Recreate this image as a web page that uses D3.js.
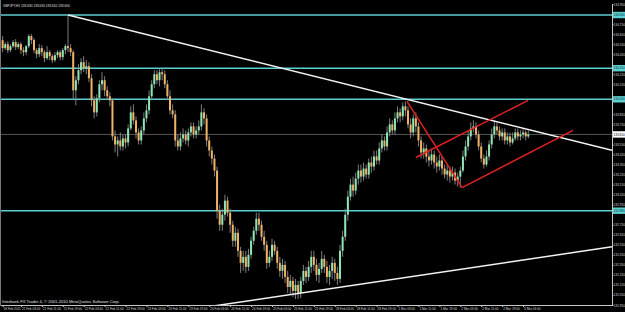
<!DOCTYPE html>
<html><head><meta charset="utf-8">
<script src="https://cdn.jsdelivr.net/npm/d3@7"></script>
<style>
html,body{margin:0;padding:0;background:#000;overflow:hidden}
svg{display:block}
text{font-family:"Liberation Sans",Arial,sans-serif}
</style></head><body>
<script>
// GBPJPY H1, bars indexed from the first visible bar
var symbol = "GBPJPY,H1";
var opens = [
134.59,134.51,134.55,134.49,134.53,134.57,134.52,134.55,134.49,134.47,
134.53,134.63,134.59,134.49,134.45,134.51,134.47,134.41,134.47,134.43,
134.39,134.44,134.47,134.42,134.49,134.53,134.51,134.47,134.09,134.19,
134.29,134.37,134.31,134.33,134.21,133.99,133.87,134.01,134.15,134.19,
134.09,134.03,133.99,133.63,133.55,133.59,133.53,133.61,133.57,133.71,
133.87,133.79,133.67,133.59,133.69,133.81,133.89,134.03,134.15,134.25,
134.19,134.27,134.25,134.15,134.03,133.89,133.85,133.59,133.53,133.61,
133.65,133.59,133.67,133.73,133.65,133.69,133.73,133.87,133.81,133.59,
133.49,133.41,133.29,132.89,132.75,132.85,132.99,132.87,132.75,132.59,
132.67,132.49,132.37,132.43,132.33,132.45,132.59,132.69,132.81,132.75,
132.63,132.55,132.37,132.43,132.55,132.49,132.37,132.29,132.35,132.23,
132.13,132.19,132.09,132.15,132.07,132.19,132.29,132.23,132.33,132.43,
132.35,132.25,132.31,132.41,132.33,132.23,132.29,132.37,132.27,132.21,
132.49,132.63,132.85,133.03,133.15,133.09,133.21,133.29,133.23,133.31,
133.25,133.37,133.33,133.43,133.39,133.51,133.59,133.53,133.67,133.75,
133.69,133.81,133.87,133.83,133.93,133.89,133.75,133.67,133.81,133.73,
133.59,133.47,133.51,133.43,133.39,133.45,133.37,133.33,133.39,133.31,
133.25,133.29,133.23,133.27,133.19,133.23,133.29,133.43,133.53,133.63,
133.71,133.73,133.65,133.53,133.41,133.35,133.43,133.55,133.65,133.73,
133.69,133.63,133.67,133.59,133.63,133.57,133.61,133.67,133.63,133.65,
133.67,133.63];
var highs = [
134.63,134.57,134.58,134.55,134.59,134.60,134.57,134.57,134.52,134.54,
134.65,134.65,134.61,134.51,134.55,134.54,134.49,134.53,134.49,134.45,
134.47,134.49,134.49,134.51,134.55,134.83,134.55,134.49,134.23,134.35,
134.41,134.43,134.39,134.37,134.25,134.03,134.05,134.19,134.27,134.23,
134.13,134.07,134.01,133.69,133.63,133.67,133.65,133.65,133.75,133.93,
133.95,133.83,133.71,133.73,133.87,133.95,134.09,134.19,134.29,134.29,
134.31,134.31,134.29,134.19,134.09,133.95,133.89,133.65,133.67,133.71,
133.69,133.71,133.77,133.77,133.73,133.79,133.95,133.91,133.85,133.63,
133.53,133.45,133.33,132.95,132.91,133.05,133.03,132.91,132.79,132.73,
132.71,132.53,132.49,132.49,132.51,132.63,132.73,132.87,132.87,132.79,
132.69,132.59,132.49,132.61,132.59,132.53,132.43,132.41,132.39,132.29,
132.25,132.23,132.21,132.19,132.23,132.35,132.33,132.39,132.49,132.49,
132.41,132.37,132.49,132.45,132.39,132.35,132.43,132.41,132.33,132.55,
132.69,132.91,133.09,133.21,133.23,133.27,133.35,133.35,133.37,133.35,
133.41,133.43,133.49,133.49,133.57,133.65,133.63,133.73,133.81,133.79,
133.87,133.93,133.91,133.97,133.98,133.93,133.81,133.85,133.87,133.77,
133.63,133.57,133.55,133.49,133.51,133.49,133.43,133.45,133.43,133.35,
133.35,133.33,133.33,133.31,133.27,133.33,133.49,133.59,133.69,133.77,
133.79,133.77,133.69,133.57,133.45,133.49,133.59,133.71,133.79,133.77,
133.73,133.71,133.71,133.67,133.67,133.67,133.71,133.71,133.69,133.71,
133.69,133.69];
var lows = [
134.47,134.49,134.46,134.47,134.51,134.49,134.50,134.45,134.43,134.44,
134.51,134.55,134.46,134.41,134.42,134.43,134.37,134.39,134.39,134.36,
134.37,134.41,134.39,134.39,134.45,134.47,134.43,133.99,133.94,134.15,
134.25,134.27,134.25,134.17,133.93,133.81,133.83,133.97,134.09,134.03,
133.99,133.93,133.59,133.47,133.43,133.49,133.49,133.51,133.53,133.69,
133.75,133.61,133.55,133.55,133.65,133.77,133.85,133.99,134.11,134.15,
134.13,134.19,134.11,133.99,133.85,133.81,133.53,133.49,133.49,133.57,
133.55,133.53,133.63,133.61,133.61,133.65,133.69,133.75,133.53,133.43,
133.35,133.23,132.81,132.69,132.69,132.79,132.83,132.67,132.53,132.53,
132.43,132.27,132.29,132.27,132.29,132.41,132.55,132.65,132.69,132.59,
132.49,132.31,132.33,132.39,132.45,132.31,132.23,132.21,132.17,132.07,
132.05,132.03,132.01,132.01,132.02,132.15,132.17,132.19,132.27,132.29,
132.19,132.17,132.27,132.27,132.17,132.15,132.21,132.19,132.15,132.17,
132.43,132.59,132.79,132.99,133.03,133.05,133.15,133.17,133.19,133.21,
133.21,133.27,133.29,133.35,133.35,133.47,133.49,133.49,133.63,133.65,
133.65,133.77,133.77,133.79,133.83,133.71,133.61,133.63,133.67,133.53,
133.41,133.41,133.37,133.33,133.35,133.31,133.27,133.29,133.25,133.21,
133.19,133.17,133.19,133.15,133.13,133.12,133.27,133.39,133.49,133.59,
133.67,133.61,133.49,133.37,133.31,133.33,133.39,133.51,133.61,133.65,
133.59,133.59,133.55,133.55,133.53,133.55,133.59,133.59,133.59,133.61,
133.59,133.61];
var closes = [
134.51,134.55,134.49,134.53,134.57,134.52,134.55,134.49,134.47,134.53,
134.63,134.59,134.49,134.45,134.51,134.47,134.41,134.47,134.43,134.39,
134.44,134.47,134.42,134.49,134.53,134.51,134.47,134.09,134.19,134.29,
134.37,134.31,134.33,134.21,133.99,133.87,134.01,134.15,134.19,134.09,
134.03,133.99,133.63,133.55,133.59,133.53,133.61,133.57,133.71,133.87,
133.79,133.67,133.59,133.69,133.81,133.89,134.03,134.15,134.25,134.19,
134.27,134.25,134.15,134.03,133.89,133.85,133.59,133.53,133.61,133.65,
133.59,133.67,133.73,133.65,133.69,133.73,133.87,133.81,133.59,133.49,
133.41,133.29,132.89,132.75,132.85,132.99,132.87,132.75,132.59,132.67,
132.49,132.37,132.43,132.33,132.45,132.59,132.69,132.81,132.75,132.63,
132.55,132.37,132.43,132.55,132.49,132.37,132.29,132.35,132.23,132.13,
132.19,132.09,132.15,132.07,132.19,132.29,132.23,132.33,132.43,132.35,
132.25,132.31,132.41,132.33,132.23,132.29,132.37,132.27,132.21,132.49,
132.63,132.85,133.03,133.15,133.09,133.21,133.29,133.23,133.31,133.25,
133.37,133.33,133.43,133.39,133.51,133.59,133.53,133.67,133.75,133.69,
133.81,133.87,133.83,133.93,133.89,133.75,133.67,133.81,133.73,133.59,
133.47,133.51,133.43,133.39,133.45,133.37,133.33,133.39,133.31,133.25,
133.29,133.23,133.27,133.19,133.23,133.29,133.43,133.53,133.63,133.71,
133.73,133.65,133.53,133.41,133.35,133.43,133.55,133.65,133.73,133.69,
133.63,133.67,133.59,133.63,133.57,133.61,133.67,133.63,133.65,133.67,
133.63,133.65];

var timeLabels = ["18 Feb 2011","21 Feb 03:00","21 Feb 11:00","21 Feb 19:00","22 Feb 03:00",
  "22 Feb 11:00","22 Feb 19:00","23 Feb 03:00","23 Feb 11:00","23 Feb 19:00","24 Feb 03:00",
  "24 Feb 11:00","24 Feb 19:00","25 Feb 03:00","25 Feb 11:00","25 Feb 19:00","28 Feb 03:00",
  "28 Feb 11:00","28 Feb 19:00","1 Mar 03:00","1 Mar 11:00","1 Mar 19:00","2 Mar 03:00",
  "2 Mar 11:00","2 Mar 19:00","3 Mar 03:00"];
var timeLabelBars = [0,7,15,23,31,39,47,55,63,71,79,87,95,103,111,119,127,135,143,151,159,167,175,183,191,199];

var priceTicks = [131.95,132.05,132.15,132.25,132.35,132.45,132.55,132.65,132.75,132.85,
  132.95,133.05,133.15,133.25,133.35,133.45,133.55,133.65,133.75,133.85,133.95,134.05,
  134.15,134.25,134.35,134.45,134.55,134.65,134.75,134.85,134.95];

// horizontal levels (cyan)
var levels = [134.84, 134.31, 134.00, 132.89];
// trend lines: [bar, price] anchors
var whiteRays = [
  [[25, 134.84], [154.6, 134.00]],
  [[78, 131.93], [233, 132.53]]
];
var redLines = [
  [[154.6, 133.98], [175.7, 133.12]],
  [[175.7, 133.12], [218.1, 133.69]],
  [[158, 133.42], [200.9, 133.99]]
];

var W = 625, H = 312;
var plotRight = 612, plotBottom = 305;
var lastBar = 233;
var cyan = '#5ccfd0';
var fmt = d3.format('.3f');

var x = d3.scaleLinear().domain([-1, lastBar]).range([0, plotRight]);
var y = d3.scaleLinear().domain([131.95, 134.95]).range([plotBottom, 4]);

var svg = d3.select('body').append('svg').attr('width', W).attr('height', H);
svg.append('rect').attr('width', W).attr('height', H).attr('fill', '#000');
svg.append('clipPath').attr('id', 'clip').append('rect')
  .attr('x', 0).attr('y', 0).attr('width', plotRight).attr('height', plotBottom);

var plot = svg.append('g').attr('clip-path', 'url(#clip)');

// cyan levels
plot.selectAll('line.level').data(levels).enter().append('line')
  .attr('x1', 0).attr('x2', plotRight)
  .attr('y1', function (d) { return y(d); }).attr('y2', function (d) { return y(d); })
  .attr('stroke', cyan).attr('stroke-width', 1.6);

// bid line
var last = closes[closes.length - 1];
plot.append('line').attr('x1', 0).attr('x2', plotRight)
  .attr('y1', y(last)).attr('y2', y(last))
  .attr('stroke', '#555').attr('stroke-width', 1);

// candles
var bars = d3.range(closes.length);
plot.selectAll('line.wick').data(bars).enter().append('line')
  .attr('x1', function (i) { return x(i); }).attr('x2', function (i) { return x(i); })
  .attr('y1', function (i) { return y(highs[i]); }).attr('y2', function (i) { return y(lows[i]); })
  .attr('stroke', '#8c8c8c').attr('stroke-width', 0.9);
plot.selectAll('rect.body').data(bars).enter().append('rect')
  .attr('x', function (i) { return x(i) - 1; })
  .attr('width', 2)
  .attr('y', function (i) { return Math.min(y(opens[i]), y(closes[i])); })
  .attr('height', function (i) { return Math.max(1, Math.abs(y(opens[i]) - y(closes[i]))); })
  .attr('fill', function (i) { return closes[i] >= opens[i] ? '#8ee6b4' : '#efb266'; });

// trend lines
function rayEnd(seg) {
  var a = seg[0], b = seg[1];
  var slope = (b[1] - a[1]) / (b[0] - a[0]);
  return [lastBar, a[1] + slope * (lastBar - a[0])];
}
plot.selectAll('line.white').data(whiteRays).enter().append('line')
  .attr('x1', function (d) { return x(d[0][0]); }).attr('y1', function (d) { return y(d[0][1]); })
  .attr('x2', function (d) { return x(rayEnd(d)[0]); }).attr('y2', function (d) { return y(rayEnd(d)[1]); })
  .attr('stroke', '#f2f2f2').attr('stroke-width', 1.5);
plot.selectAll('line.red').data(redLines).enter().append('line')
  .attr('x1', function (d) { return x(d[0][0]); }).attr('y1', function (d) { return y(d[0][1]); })
  .attr('x2', function (d) { return x(d[1][0]); }).attr('y2', function (d) { return y(d[1][1]); })
  .attr('stroke', '#e02222').attr('stroke-width', 1.5);

// left border
svg.append('line').attr('x1', 0.5).attr('x2', 0.5).attr('y1', 0).attr('y2', plotBottom)
  .attr('stroke', '#777');

// price axis; ticks hidden under a tag are dropped
var tagged = levels.concat([last]);
var shownTicks = priceTicks.filter(function (p) {
  return tagged.every(function (t) { return Math.abs(y(p) - y(t)) > 6; });
});
var yAxis = svg.append('g').attr('transform', 'translate(' + plotRight + ',0)')
  .call(d3.axisRight(y).tickValues(shownTicks).tickSize(1.5).tickSizeOuter(0).tickFormat(fmt));
yAxis.select('.domain').attr('stroke', '#c8c8c8');
yAxis.selectAll('.tick line').attr('stroke', '#c8c8c8');
yAxis.selectAll('.tick text').attr('fill', '#d8d8d8').attr('font-size', 3.1).attr('x', 1.8);

// time axis
var xAxis = svg.append('g').attr('transform', 'translate(0,' + plotBottom + ')')
  .call(d3.axisBottom(x).tickValues(timeLabelBars).tickSize(2).tickSizeOuter(0)
    .tickFormat(function (d, k) { return timeLabels[k]; }));
xAxis.select('.domain').attr('stroke', '#c8c8c8').attr('d', 'M0.5,0.5H' + plotRight);
xAxis.selectAll('.tick line').attr('stroke', '#c8c8c8');
xAxis.selectAll('.tick text').attr('fill', '#d8d8d8').attr('font-size', 3.1)
  .attr('text-anchor', 'start').attr('x', 0.5).attr('y', 2.5);

// level tags on axis
var tags = svg.selectAll('g.tag').data(levels).enter().append('g')
  .attr('transform', function (d) { return 'translate(' + (plotRight + 1) + ',' + y(d) + ')'; });
tags.append('rect').attr('x', 0).attr('y', -3.2).attr('width', 12).attr('height', 6.4).attr('fill', cyan);
tags.append('text').attr('x', 0.6).attr('dy', '0.35em').attr('font-size', 3.1).attr('fill', '#033')
  .text(function (d) { return fmt(d); });

// bid tag
var bid = svg.append('g').attr('transform', 'translate(' + (plotRight + 1) + ',' + y(last) + ')');
bid.append('rect').attr('x', 0).attr('y', -3.2).attr('width', 12).attr('height', 6.4).attr('fill', '#fff');
bid.append('text').attr('x', 0.6).attr('dy', '0.35em').attr('font-size', 3.1).attr('fill', '#000')
  .text(fmt(last));

// header and footer text
var n = closes.length - 1;
svg.append('text').attr('x', 3).attr('y', 6.5).attr('font-size', 3.2).attr('fill', '#e0e0e0')
  .text(symbol + '  ' + [opens[n], highs[n], lows[n], closes[n]].map(fmt).join(' '));
svg.append('text').attr('x', 2).attr('y', 302.5).attr('font-size', 4.1).attr('fill', '#e0e0e0')
  .text('Interbank FX Trader 4, \u00a9 2001-2010 MetaQuotes Software Corp.');
</script>
</body></html>
